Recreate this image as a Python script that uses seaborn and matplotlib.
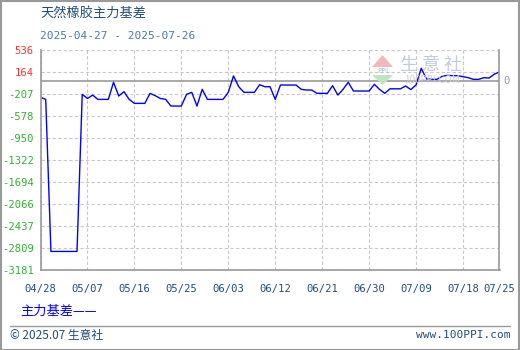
import numpy as np
import pandas as pd
import matplotlib
matplotlib.use("Agg")
import matplotlib.pyplot as plt
from matplotlib.patches import Rectangle, Polygon
import seaborn as sns

# ---- data (daily, 2025-04-28 .. 2025-07-25) ----
start_date = "2025-04-28"
basis = [
    -270, -305, -2868, -2868, -2868, -2868, -2868, -2868, -220, -290,
    -232, -305, -305, -305, -17, -248, -175, -305, -372, -372,
    -372, -203, -243, -290, -305, -417, -417, -417, -220, -186,
    -417, -136, -305, -305, -305, -305, -186, 90, -91, -186,
    -186, -186, -57, -91, -91, -305, -63, -63, -63, -63,
    -136, -147, -147, -203, -203, -203, -74, -232, -136, -17,
    -164, -164, -164, -164, -51, -136, -203, -127, -127, -127,
    -79, -140, -60, 219, 40, 33, 33, 85, 100, 95,
    95, 78, 61, 33, 33, 61, 55, 120, 158,
]
y_ticks = [536, 164, -207, -578, -950, -1322, -1694, -2066, -2437, -2809, -3181]
x_tick_labels = ["04/28", "05/07", "05/16", "05/25", "06/03", "06/12",
                 "06/21", "06/30", "07/09", "07/18", "07/25"]
title = "天然橡胶主力基差"
subtitle = "2025-04-27 - 2025-07-26"
legend_label = "主力基差"

dates = pd.date_range(start_date, periods=len(basis), freq="D")
df = pd.DataFrame({"date": dates, "basis": basis})

sns.set_style("white")
plt.rcParams['font.family'] = ['Noto Sans CJK SC', 'DejaVu Sans']

W, H = 520, 350
fig = plt.figure(figsize=(W / 100, H / 100), dpi=100)
fig.patch.set_facecolor("white")

L, R, T, B = 40.5, 499.5, 49.5, 270
ax = fig.add_axes([L / W, 1 - B / H, (R - L) / W, (B - T) / H])

sns.lineplot(data=df, x="date", y="basis", ax=ax, color="#0000ff",
             linewidth=1.0, legend=False)

ax.set_xlim(dates[0], dates[-1])
ax.set_ylim(y_ticks[-1], y_ticks[0])

xt = pd.to_datetime(["2025-" + s.replace("/", "-") for s in x_tick_labels])
ax.set_xticks(xt)
ax.set_xticklabels(x_tick_labels, fontsize=7.6, color="#1f4e79",
                   family="DejaVu Sans Mono")
ax.set_yticks(y_ticks)
ax.set_yticklabels([str(v) for v in y_ticks], fontsize=7.6,
                   family="DejaVu Sans Mono")
for lab, v in zip(ax.get_yticklabels(), y_ticks):
    lab.set_color("#ff3333" if v > 0 else "#33b033")
ax.tick_params(axis="both", length=0)
ax.tick_params(axis="x", pad=10)
ax.tick_params(axis="y", pad=5)
ax.set_xlabel("")
ax.set_ylabel("")

ax.grid(True, color="#c8c8c8", linestyle=(0, (3, 2)), linewidth=0.8)
ax.set_axisbelow(True)
for s in ["left", "bottom", "right"]:
    ax.spines[s].set_color("#999999")
    ax.spines[s].set_linewidth(1.2)
ax.spines["top"].set_visible(False)
ax.axhline(0, color="#999999", linewidth=1.2, zorder=1.5)

# right "0" label
fig.text(507 / W, 1 - 81 / H, "0", color="#999999", fontsize=7.6,
         family="DejaVu Sans Mono", ha="center", va="center")

# watermark
fig.text(431 / W, 1 - 65 / H, "生 意 社", color="#c3cadb", fontsize=13,
         ha="center", va="center", zorder=0)
fig.text(432 / W, 1 - 80 / H, "100PPI.COM", color="#d0d0d0", fontsize=7,
         ha="center", va="center", zorder=0)
fig.patches.append(Polygon([[372 / W, 1 - 67 / H], [393 / W, 1 - 67 / H],
                            [382.5 / W, 1 - 55 / H]], closed=True,
                           transform=fig.transFigure, facecolor="#f2b8b8",
                           edgecolor="none", zorder=0))
fig.patches.append(Polygon([[372 / W, 1 - 75 / H], [393 / W, 1 - 75 / H],
                            [382.5 / W, 1 - 85 / H]], closed=True,
                           transform=fig.transFigure, facecolor="#bfe6bf",
                           edgecolor="none", zorder=0))
fig.text(382.5 / W, 1 - 71 / H, "PPI", color="#a8b4cc", fontsize=5,
         ha="center", va="center", zorder=0)

# titles
fig.text(40 / W, 1 - 14 / H, title, color="#1f4e79", fontsize=9.5,
         ha="left", va="center")
fig.text(40 / W, 1 - 36 / H, subtitle, color="#4a7aa8", fontsize=8,
         ha="left", va="center", family="DejaVu Sans Mono")

# legend
fig.text(20 / W, 1 - 311 / H, legend_label + "——", color="#0000ff",
         fontsize=9.5, ha="left", va="center")

# footer
fig.lines.append(plt.Line2D([10 / W, 510 / W], [1 - 326 / H, 1 - 326 / H],
                            transform=fig.transFigure, color="#999999",
                            linewidth=1.0))
fig.text(10 / W, 1 - 335 / H, "© 2025.07 生意社", color="#1f4e79",
         fontsize=8.5, ha="left", va="center")
fig.text(510 / W, 1 - 335 / H, "www.100PPI.com", color="#1f4e79",
         fontsize=8, ha="right", va="center", family="DejaVu Sans Mono")

# outer border
fig.patches.append(Rectangle((0.5 / W, 0.5 / H), (W - 2) / W, (H - 1.5) / H,
                             transform=fig.transFigure, fill=False,
                             edgecolor="#999999", linewidth=1.5))

fig.savefig("out.png", dpi=100)
